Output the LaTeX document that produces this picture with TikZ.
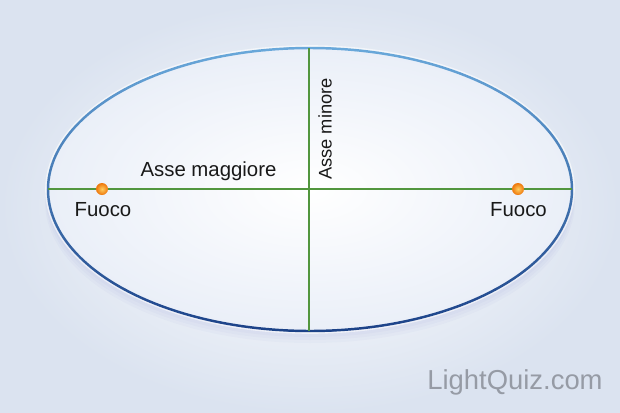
\documentclass[tikz,border=0pt]{standalone}
\usepackage{fontspec}
\setmainfont{Liberation Sans}

\definecolor{bgblue}{RGB}{219,227,240}
\definecolor{fillblue}{RGB}{234,239,248}
\definecolor{rimlight}{RGB}{105,168,218}
\definecolor{rimdark}{RGB}{28,66,136}
\definecolor{axisgreen}{RGB}{82,150,62}
\definecolor{focuslight}{RGB}{255,205,95}
\definecolor{focusorange}{RGB}{238,118,10}
\definecolor{markgray}{RGB}{150,155,165}

\begin{document}
\begin{tikzpicture}[
    x=0.02cm, y=-0.02cm,
    axis/.style={draw=axisgreen, line width=1.2pt},
    focus/.style={circle, inner sep=0pt, minimum size=0.24cm, inner color=focuslight, outer color=focusorange},
    label/.style={font=\fontsize{11.6}{13}\selectfont, text=black!90, inner sep=0pt},
    watermark/.style={font=\fontsize{15.6}{17}\selectfont, text=markgray, inner sep=0pt}
]

% Background
\useasboundingbox (0,0) rectangle (620,413);
\fill[inner color=white, outer color=bgblue] (0,0) rectangle (620,413);

% Soft shadow under the ellipse
\foreach \s in {3,6,9,12}
    \fill[black!40!blue, opacity=0.02] (310,189.5+\s) ellipse[x radius=262+\s/4, y radius=141.5];
\draw[white, opacity=0.6, line width=1.5pt] (310,189.5) ellipse[x radius=263.5, y radius=143];

% Ellipse
\fill[inner color=white, outer color=fillblue] (310,189.5) ellipse[x radius=262, y radius=141.5];
\foreach \a in {0,5,...,355} {
    \pgfmathsetmacro\m{50+50*sin(\a+2.5)}
    \draw[rimdark!\m!rimlight, line width=1.4pt, line cap=round]
        (310,189.5) ++(\a:262 and 141.5)
        arc[start angle=\a, end angle=\a+5, x radius=262, y radius=141.5];
}

% Axes
\coordinate (left) at (48,189);
\coordinate (right) at (572,189);
\coordinate (top) at (309,48);
\coordinate (bottom) at (309,331);
\draw[axis] (left) -- (right);
\draw[axis] (top) -- (bottom);

% Foci
\node[focus] (f1) at (102,189) {};
\node[focus] (f2) at (518,189) {};

% Labels
\node[label, anchor=base] (major) at (208.5,176) {Asse maggiore};
\node[label, anchor=base, rotate=90, font=\fontsize{10.4}{12}\selectfont] (minor) at (331.5,129) {Asse minore};
\node[label, anchor=base] (f1label) at (103,216) {Fuoco};
\node[label, anchor=base] (f2label) at (518.5,216) {Fuoco};

% Watermark
\node[watermark, anchor=base] (mark) at (515,389) {LightQuiz.com};

\end{tikzpicture}
\end{document}
